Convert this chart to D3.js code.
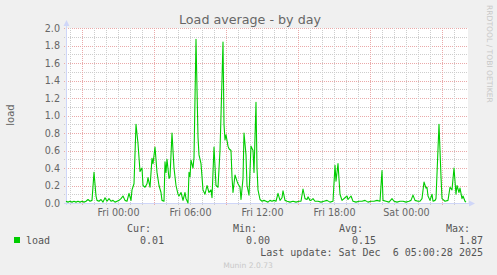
<!DOCTYPE html>
<html lang="en">
<head>
<meta charset="UTF-8">
<title>Load average - by day</title>
<script src="https://d3js.org/d3.v7.min.js"></script>
<style>
  body { margin: 0; background: #f0f0f0; }
  svg text { font-family: "DejaVu Sans", sans-serif; fill: #666; }
  svg text.mono { font-family: "DejaVu Sans Mono", monospace; fill: #555; }
</style>
</head>
<body>
<script>
    // samples (day of Dec 2025 + local time)
    sampleTimes = [
        "04 19:40","04 19:50","04 20:00","04 20:10","04 20:20","04 20:30","04 20:40","04 20:50",
        "04 21:00","04 21:10","04 21:20","04 21:30","04 21:40","04 21:50","04 22:00","04 22:10",
        "04 22:15","04 22:25","04 22:35","04 22:45","04 22:55","04 23:05","04 23:15","04 23:25",
        "04 23:35","04 23:45","04 23:55","05 00:05","05 00:15","05 00:25","05 00:35","05 00:45",
        "05 00:55","05 01:05","05 01:10","05 01:20","05 01:30","05 01:40","05 01:50","05 02:00",
        "05 02:05","05 02:15","05 02:25","05 02:30","05 02:40","05 02:50","05 02:55","05 03:05",
        "05 03:15","05 03:25","05 03:35","05 03:40","05 03:50","05 03:55","05 04:00","05 04:05",
        "05 04:15","05 04:20","05 04:30","05 04:40","05 04:50","05 05:00","05 05:05","05 05:15",
        "05 05:25","05 05:35","05 05:40","05 05:50","05 05:55","05 06:00","05 06:05","05 06:15",
        "05 06:20","05 06:30","05 06:40","05 06:45","05 06:55","05 07:05","05 07:15","05 07:25",
        "05 07:35","05 07:45","05 07:50","05 08:00","05 08:10","05 08:20","05 08:30","05 08:35",
        "05 08:45","05 08:50","05 08:55","05 09:00","05 09:10","05 09:15","05 09:25","05 09:30",
        "05 09:35","05 09:45","05 09:55","05 10:00","05 10:10","05 10:15","05 10:25","05 10:30",
        "05 10:40","05 10:45","05 10:55","05 11:05","05 11:15","05 11:20","05 11:30","05 11:35",
        "05 11:40","05 11:50","05 12:00","05 12:10","05 12:20","05 12:30","05 12:40","05 12:50",
        "05 13:00","05 13:10","05 13:20","05 13:30","05 13:40","05 13:45","05 13:55","05 14:05",
        "05 14:20","05 14:35","05 14:50","05 15:05","05 15:15","05 15:25","05 15:35","05 15:45",
        "05 15:50","05 16:00","05 16:05","05 16:15","05 16:25","05 16:40","05 16:55","05 17:10",
        "05 17:25","05 17:40","05 17:55","05 18:05","05 18:10","05 18:20","05 18:30","05 18:40",
        "05 18:55","05 19:05","05 19:10","05 19:25","05 19:35","05 19:50","05 20:05","05 20:20",
        "05 20:35","05 20:50","05 21:05","05 21:20","05 21:35","05 21:50","05 22:00","05 22:05",
        "05 22:20","05 22:35","05 22:50","05 23:00","05 23:15","05 23:30","05 23:45","06 00:00",
        "06 00:15","06 00:25","06 00:35","06 00:45","06 01:00","06 01:10","06 01:20","06 01:30",
        "06 01:40","06 01:45","06 01:50","06 02:00","06 02:10","06 02:15","06 02:25","06 02:30",
        "06 02:45","06 02:55","06 03:00","06 03:15","06 03:30","06 03:40","06 03:50","06 04:00",
        "06 04:10","06 04:15","06 04:25","06 04:30","06 04:40","06 04:45","06 04:55","06 05:00"
    ]
    loadValues = [
        0.02,0.01,0.02,0.01,0.02,0.01,0.02,0.01,
        0.02,0.01,0.02,0.04,0.02,0.03,0.35,0.08,
        0.03,0.02,0.04,0.01,0.06,0.02,0.05,0.02,
        0.03,0.01,0.02,0.03,0.05,0.08,0.03,0.02,
        0.11,0.03,0.15,0.22,0.90,0.68,0.36,0.40,
        0.20,0.18,0.22,0.29,0.18,0.51,0.45,0.64,
        0.35,0.20,0.12,0.03,0.02,0.47,0.35,0.50,
        0.28,0.30,0.80,0.40,0.20,0.10,0.08,0.12,
        0.03,0.12,0.05,0.00,0.35,0.30,0.49,0.40,
        0.52,1.87,0.75,0.55,0.45,0.15,0.10,0.20,
        0.12,0.15,0.06,0.64,0.20,0.18,0.60,1.00,
        1.84,0.90,0.72,0.78,0.65,0.62,0.60,0.30,
        0.12,0.32,0.25,0.22,0.18,0.04,0.28,0.80,
        0.55,0.20,0.09,0.65,0.60,0.35,1.15,0.40,
        0.15,0.04,0.02,0.03,0.02,0.01,0.03,0.02,
        0.03,0.02,0.11,0.03,0.06,0.14,0.03,0.02,
        0.01,0.02,0.01,0.02,0.02,0.16,0.05,0.04,
        0.07,0.03,0.03,0.05,0.02,0.02,0.01,0.02,
        0.03,0.01,0.02,0.43,0.25,0.45,0.10,0.03,
        0.06,0.08,0.04,0.08,0.02,0.01,0.02,0.02,
        0.03,0.01,0.02,0.02,0.03,0.02,0.37,0.03,
        0.02,0.01,0.05,0.02,0.01,0.02,0.02,0.01,
        0.02,0.03,0.09,0.03,0.02,0.02,0.05,0.24,
        0.17,0.18,0.08,0.03,0.10,0.02,0.03,0.05,
        0.90,0.30,0.05,0.02,0.03,0.18,0.15,0.40,
        0.10,0.20,0.12,0.17,0.05,0.08,0.02,0.01
    ]

    yTicks = [0.0, 0.2, 0.4, 0.6, 0.8, 1.0, 1.2, 1.4, 1.6, 1.8, 2.0]
    xLabelTimes = ["05 00:00", "05 06:00", "05 12:00", "05 18:00", "06 00:00"]
    xLabels = ["Fri 00:00", "Fri 06:00", "Fri 12:00", "Fri 18:00", "Sat 00:00"]
    timeSpan = ["04 19:40", "06 05:00"]

    legendHeads = ["Cur:", "Min:", "Avg:", "Max:"]
    legendValues = ["0.01", "0.00", "0.15", "1.87"]
    lastUpdate = "Last update: Sat Dec  6 05:00:28 2025"

    parse = s => d3.timeParse("%Y-%m-%d %H:%M")("2025-12-" + s)
    data = sampleTimes.map((t, i) => ({t: parse(t), v: loadValues[i]}))

    w = 497
    h = 275
    plot = {left: 66, right: 466, top: 28, bottom: 203}

    svg = d3.select("body")
        .append("svg")
        .attr("width", w)
        .attr("height", h)

    svg.append("rect")
        .attr("width", w).attr("height", h)
        .attr("fill", "#f0f0f0")

    x = d3.scaleTime()
        .domain(timeSpan.map(parse))
        .range([plot.left, plot.right])

    y = d3.scaleLinear()
        .domain([0, 2])
        .range([plot.bottom, plot.top])

    // canvas
    svg.append("rect")
        .attr("x", plot.left)
        .attr("y", plot.top)
        .attr("width", plot.right - plot.left + 2)
        .attr("height", plot.bottom - plot.top)
        .attr("fill", "#ffffff")

    crisp = v => Math.round(v) + 0.5
    minorCol = "#cdcdcd"
    majorCol = "#eaa9a9"

    // horizontal grid: minor every 0.1, major every 0.2
    minorY = d3.range(1, 20, 2).map(d => d / 10)
    svg.append("g").selectAll("line")
        .data(minorY)
        .join("line")
        .attr("x1", plot.left - 2).attr("x2", plot.right + 2)
        .attr("y1", d => crisp(y(d))).attr("y2", d => crisp(y(d)))
        .attr("stroke", minorCol)
        .attr("stroke-dasharray", "1,1")
        .attr("shape-rendering", "crispEdges")

    svg.append("g").selectAll("line")
        .data(yTicks.filter(d => d > 0))
        .join("line")
        .attr("x1", plot.left - 2).attr("x2", plot.right + 2)
        .attr("y1", d => crisp(y(d))).attr("y2", d => crisp(y(d)))
        .attr("stroke", majorCol)
        .attr("stroke-dasharray", "1,1")
        .attr("shape-rendering", "crispEdges")

    // vertical grid: every hour, major every 6 hours
    hours = d3.timeHour.range(x.domain()[0], x.domain()[1])
    svg.append("g").selectAll("line")
        .data(hours)
        .join("line")
        .attr("x1", d => crisp(x(d))).attr("x2", d => crisp(x(d)))
        .attr("y1", plot.top).attr("y2", plot.bottom + 2)
        .attr("stroke", d => d.getHours() % 6 == 3 ? majorCol : minorCol)
        .attr("stroke-dasharray", "1,1")
        .attr("shape-rendering", "crispEdges")

    // axes lines + arrows
    axisCol = "#cfd6f8"
    svg.append("line")
        .attr("x1", plot.left + 0.5).attr("x2", plot.left + 0.5)
        .attr("y1", plot.bottom + 2).attr("y2", plot.top - 4)
        .attr("stroke", axisCol)
    svg.append("line")
        .attr("x1", plot.left - 2).attr("x2", plot.right + 4)
        .attr("y1", plot.bottom + 0.5).attr("y2", plot.bottom + 0.5)
        .attr("stroke", axisCol)
    svg.append("path")
        .attr("d", `M${plot.left - 2.5},${plot.top - 2}L${plot.left + 0.5},${plot.top - 8}L${plot.left + 3.5},${plot.top - 2}Z`)
        .attr("fill", axisCol)
    svg.append("path")
        .attr("d", `M${plot.right + 3},${plot.bottom - 2.5}L${plot.right + 9},${plot.bottom + 0.5}L${plot.right + 3},${plot.bottom + 3.5}Z`)
        .attr("fill", axisCol)

    // the load line
    line = d3.line()
        .x(d => x(d.t))
        .y(d => y(d.v))

    svg.append("path")
        .datum(data)
        .attr("d", line)
        .attr("fill", "none")
        .attr("stroke", "#00cc00")
        .attr("stroke-width", 1.1)
        .attr("stroke-linejoin", "round")

    // y tick labels
    yAxis = svg.append("g")
        .attr("transform", "translate(" + (plot.left - 6) + ",0)")
        .call(d3.axisLeft(y).tickValues(yTicks).tickFormat(d3.format(".1f")).tickSize(0).tickPadding(0))
    yAxis.select(".domain").remove()
    yAxis.selectAll("text")
        .attr("font-size", 9.6)
        .attr("font-family", "DejaVu Sans")
        .attr("fill", "#666")

    // x labels
    xAxis = svg.append("g")
        .attr("transform", "translate(0," + (plot.bottom + 3) + ")")
        .call(d3.axisBottom(x).tickValues(xLabelTimes.map(parse))
            .tickFormat((d, i) => xLabels[i]).tickSize(0).tickPadding(3))
    xAxis.select(".domain").remove()
    xAxis.selectAll("text")
        .attr("font-size", 9.6)
        .attr("font-family", "DejaVu Sans")
        .attr("fill", "#666")

    // title and labels
    svg.append("text")
        .attr("x", 250).attr("y", 24)
        .attr("text-anchor", "middle")
        .attr("font-size", 12.7)
        .text("Load average - by day")

    svg.append("text")
        .attr("transform", "translate(14,115) rotate(-90)")
        .attr("text-anchor", "middle")
        .attr("font-size", 10)
        .text("load")

    svg.append("text")
        .attr("transform", "translate(486.5,5) rotate(90)")
        .attr("font-size", 7.6)
        .style("fill", "#c8c8c8")
        .text("RRDTOOL / TOBI OETIKER")

    // legend
    svg.append("rect")
        .attr("x", 14).attr("y", 237)
        .attr("width", 6).attr("height", 6)
        .attr("fill", "#00cc00")

    svg.append("text")
        .attr("class", "mono")
        .attr("x", 26).attr("y", 243.5)
        .attr("font-size", 10)
        .text("load")

    headX = [151, 257, 363, 470]
    svg.append("g").selectAll("text")
        .data(legendHeads)
        .join("text")
        .attr("class", "mono")
        .attr("x", (d, i) => headX[i]).attr("y", 231.5)
        .attr("text-anchor", "end")
        .attr("font-size", 10)
        .text(d => d)

    svg.append("g").selectAll("text")
        .data(legendValues)
        .join("text")
        .attr("class", "mono")
        .attr("x", (d, i) => headX[i] + 13).attr("y", 243.5)
        .attr("text-anchor", "end")
        .attr("font-size", 10)
        .text(d => d)

    svg.append("text")
        .attr("class", "mono")
        .attr("x", 483).attr("y", 255.5)
        .attr("text-anchor", "end")
        .attr("font-size", 10)
        .attr("xml:space", "preserve")
        .style("white-space", "pre")
        .text(lastUpdate)

    svg.append("text")
        .attr("x", 248).attr("y", 268)
        .attr("text-anchor", "middle")
        .attr("font-size", 7.6)
        .style("fill", "#c8c8c8")
        .text("Munin 2.0.73")
</script>
</body>
</html>
